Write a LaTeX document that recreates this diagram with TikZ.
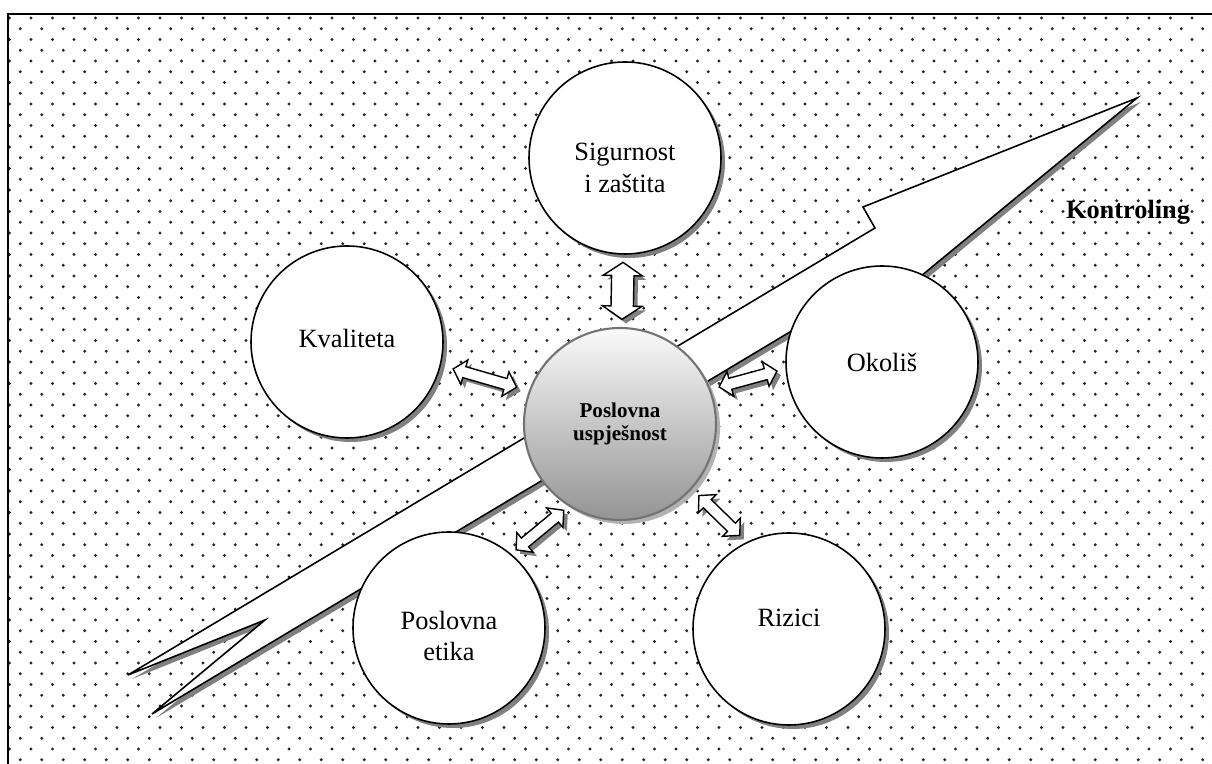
\documentclass[tikz,border=0pt]{standalone}
\usepackage{fontspec}
\setmainfont{Liberation Serif}
\usetikzlibrary{shapes.arrows,shadows}

\begin{document}
\begin{tikzpicture}[
    dot/.style={fill=black!85},
    gshadow/.style={drop shadow={shadow xshift=0.08cm, shadow yshift=-0.08cm,
                    fill=black!50, opacity=1}},
    disc/.style={circle, inner sep=0pt, minimum size=3.84cm, align=center},
    bubble/.style={disc, draw, line width=0.9pt, fill=white, gshadow},
    txt/.style={align=center, font=\fontsize{15}{18}\selectfont},
    core/.style={disc, draw=black!55, line width=1.2pt,
                 top color=black!2, bottom color=black!42,
                 font=\bfseries\fontsize{12}{13}\selectfont,
                 drop shadow={shadow xshift=0.08cm, shadow yshift=-0.08cm,
                              fill=black!30, opacity=1}},
    link/.style={double arrow, draw, fill=white, line width=0.8pt,
                 inner xsep=0pt, inner ysep=0.1cm, minimum width=0pt,
                 double arrow head extend=0.14cm,
                 double arrow tip angle=95, sloped, gshadow},
    biglink/.style={link, inner ysep=0.21cm, double arrow head extend=0.17cm,
                    double arrow tip angle=112, minimum height=1.14cm},
    label/.style={font=\bfseries\fontsize{15}{18}\selectfont}
]
\useasboundingbox (0,0) rectangle (24.24,15.28);

% dotted background
\foreach \r in {0,...,69} {
    \foreach \c in {0,...,56} {
        \fill[dot] ({0.19+0.215*mod(\r,2)+0.43*\c},{14.92-0.215*\r}) circle (0.033);
    }
}
% frame
\draw[line width=1.2pt] (0.16,0) -- (0.16,15.0) -- (24.24,15.0);

% the lightning band
\draw[fill=white, line width=0.9pt, gshadow]
    (22.74,13.32) -- (17.26,11.14) -- (17.50,10.72) -- (2.56,1.78)
    -- (5.30,2.88) -- (3.04,1.00) -- (17.00,9.36) -- (18.30,9.66) -- cycle;
\node[label] (ctl) at (22.56,11.04) {Kontroling};

% circles
\node[bubble] (sig)  at (12.50,12.12) {};
\node[bubble] (kval) at (6.94,8.44)   {};
\node[bubble] (okol) at (17.64,8.04)  {};
\node[bubble] (etk)  at (8.98,2.72)   {};
\node[bubble] (riz)  at (15.78,2.70)  {};
\node[core]   (usp)  at (12.40,6.80)  {Poslovna\\uspješnost};

% circle texts
\node[txt] (sig-t)  at ([yshift=-0.2cm]sig)   {Sigurnost\\i zaštita};
\node[txt] (kval-t) at ([yshift=0.08cm]kval)  {Kvaliteta};
\node[txt] (okol-t) at (okol)                 {Okoliš};
\node[txt] (etk-t)  at ([yshift=-0.16cm]etk)  {Poslovna\\etika};
\node[txt] (riz-t)  at ([yshift=0.22cm]riz)   {Rizici};

% double arrows
\path (sig) -- node[biglink] {} (usp);
\path (kval.-14) -- node[link, minimum height=1.32cm] {} (usp.160);
\path (usp.21) -- node[link, minimum height=1.2cm] {} (okol.184);
\path (etk.50) -- node[link, minimum height=1.24cm] {} (usp.-122);
\path (usp.-42) -- node[link, minimum height=1.14cm] {} (riz.116);

\end{tikzpicture}
\end{document}
